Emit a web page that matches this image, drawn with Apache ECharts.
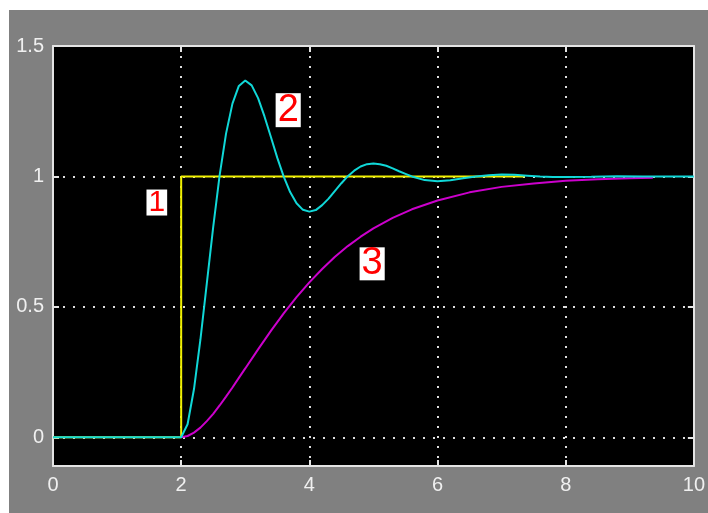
<!DOCTYPE html>
<html>
<head>
<meta charset="utf-8">
<script src="https://cdn.jsdelivr.net/npm/echarts@6/dist/echarts.min.js"></script>
<style>
html,body{margin:0;padding:0;background:#ffffff;width:708px;height:513px;overflow:hidden;}
#chart{position:absolute;left:9px;top:10px;width:699px;height:503px;}
</style>
</head>
<body>
<div id="chart"></div>
<script>
// ---- data ----
const xTicks = [0, 2, 4, 6, 8, 10];
const yTicks = [0, 0.5, 1, 1.5];

// curve 1: step input (yellow)
const stepT = [0, 2, 2, 7.36];
const stepY = [0, 0, 1, 1];

// curve 2: oscillating response (cyan)
const oscT = [0, 2, 2.1, 2.2, 2.3, 2.4, 2.5, 2.6, 2.7, 2.8, 2.9, 3.0, 3.1, 3.2, 3.3, 3.4, 3.5, 3.6, 3.7, 3.8, 3.9, 4.0,
  4.1, 4.2, 4.3, 4.4, 4.5, 4.6, 4.7, 4.8, 4.9, 5.0, 5.1, 5.2, 5.3, 5.4, 5.5, 5.6, 5.8, 6.0, 6.2, 6.4, 6.6, 6.8, 7.0,
  7.2, 7.4, 7.6, 7.8, 8.0, 8.4, 8.8, 9.2, 9.6, 10];
const oscY = [0, 0, 0.050, 0.185, 0.374, 0.590, 0.807, 1.004, 1.164, 1.279, 1.347, 1.368, 1.349, 1.300, 1.230, 1.151, 1.071, 0.999, 0.940, 0.897, 0.872, 0.865,
  0.871, 0.890, 0.915, 0.945, 0.974, 1.001, 1.022, 1.038, 1.047, 1.050, 1.047, 1.041, 1.031, 1.020, 1.010, 1.000, 0.986, 0.982, 0.985, 0.993, 1.000, 1.005, 1.007,
  1.006, 1.003, 1.000, 0.998, 0.998, 0.999, 1.001, 1.000, 1.000, 1.000];

// curve 3: smooth response (magenta)
const smoothT = [2, 2.1, 2.2, 2.3, 2.4, 2.5, 2.6, 2.7, 2.8, 2.9, 3.0, 3.2, 3.4, 3.6, 3.8, 4.0, 4.2, 4.4, 4.6, 4.8, 5.0, 5.3, 5.6, 6.0, 6.5, 7.0, 7.5, 8.0, 8.5, 9.0, 9.36];
const smoothY = [0, 0.005, 0.018, 0.037, 0.062, 0.090, 0.122, 0.156, 0.191, 0.228, 0.264, 0.337, 0.408, 0.475, 0.537, 0.594, 0.645, 0.692, 0.733, 0.769, 0.801, 0.841, 0.874, 0.908, 0.939, 0.960, 0.973, 0.983, 0.989, 0.993, 0.995];

// numbered curve labels
const labelNames = ['1', '2', '3'];
const labelX = [1.62, 3.67, 4.98];
const labelY = [0.90, 1.254, 0.665];

// ---- chart ----
const pairs = (xs, ys) => xs.map((x, i) => [x, ys[i]]);
const labelFont = [30, 38, 38];
const labelLH = [26, 34, 33];

const axisColor = '#e4e4e4';
const textColor = '#f0f0f0';
const gridDots = { show: true, lineStyle: { color: '#dcdcdc', width: 2, type: [2, 8] } };

const chart = echarts.init(document.getElementById('chart'), null, { renderer: 'canvas' });
chart.setOption({
  backgroundColor: '#808080',
  animation: false,
  grid: { left: 44, top: 36, right: 11, bottom: 47, backgroundColor: '#000000', show: true, borderWidth: 0 },
  xAxis: [
    {
      type: 'value', min: 0, max: 10, interval: 2, position: 'bottom',
      axisLine: { show: true, onZero: false, lineStyle: { color: axisColor, width: 2 } },
      axisTick: { show: true, inside: true, length: 6, lineStyle: { color: axisColor, width: 2 } },
      axisLabel: { color: textColor, fontSize: 20, fontFamily: 'Liberation Sans', margin: 9,
        formatter: v => xTicks.includes(v) ? String(v) : '' },
      splitLine: gridDots
    },
    {
      type: 'value', min: 0, max: 10, interval: 2, position: 'top',
      axisLine: { show: true, onZero: false, lineStyle: { color: axisColor, width: 2 } },
      axisTick: { show: true, inside: true, length: 6, lineStyle: { color: axisColor, width: 2 } },
      axisLabel: { show: false }, splitLine: { show: false }
    }
  ],
  yAxis: [
    {
      type: 'value', min: -0.11, max: 1.5, position: 'left',
      axisLine: { show: true, onZero: false, lineStyle: { color: axisColor, width: 2 } },
      axisTick: { show: true, inside: true, length: 6, customValues: yTicks, lineStyle: { color: axisColor, width: 2 } },
      axisLabel: { color: textColor, fontSize: 20, fontFamily: 'Liberation Sans', margin: 9, customValues: yTicks,
        formatter: v => String(v) },
      splitLine: gridDots
    },
    {
      type: 'value', min: -0.11, max: 1.5, position: 'right',
      axisLine: { show: true, onZero: false, lineStyle: { color: axisColor, width: 2 } },
      axisTick: { show: true, inside: true, length: 6, customValues: yTicks, lineStyle: { color: axisColor, width: 2 } },
      axisLabel: { show: false, customValues: yTicks }, splitLine: { show: false }
    }
  ],
  series: [
    { type: 'line', data: pairs(stepT, stepY), showSymbol: false, symbol: 'none',
      lineStyle: { color: '#f0f000', width: 2 }, z: 2 },
    { type: 'line', data: pairs(smoothT, smoothY), showSymbol: false, symbol: 'none',
      lineStyle: { color: '#cc00cc', width: 2 }, z: 3 },
    { type: 'line', data: pairs(oscT, oscY), showSymbol: false, symbol: 'none',
      lineStyle: { color: '#10d8d8', width: 2 }, z: 4 },
    { type: 'scatter', symbolSize: 0, z: 5, itemStyle: { opacity: 1 }, emphasis: { disabled: true },
      data: labelNames.map((n, i) => ({
        name: n, value: [labelX[i], labelY[i]],
        label: { show: true, position: 'inside', formatter: n, color: '#ff0000', opacity: 1,
          fontSize: labelFont[i], lineHeight: labelLH[i], fontFamily: 'Liberation Sans Narrow, Liberation Sans, sans-serif',
          backgroundColor: '#ffffff', padding: [0, 2, 0, 2] }
      })) }
  ]
});
</script>
</body>
</html>
